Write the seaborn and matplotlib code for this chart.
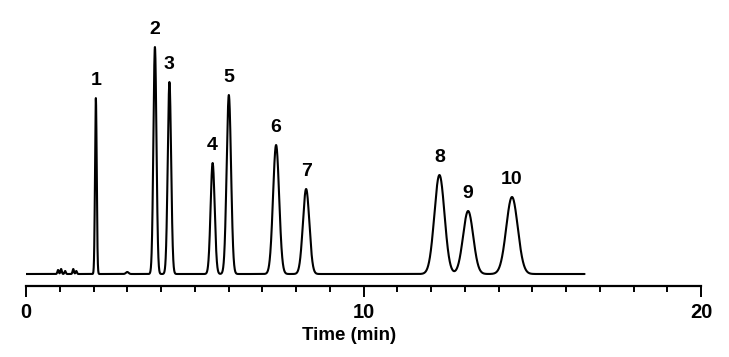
import numpy as np
import pandas as pd
import matplotlib
matplotlib.use("Agg")
import matplotlib.pyplot as plt
import seaborn as sns
from matplotlib.ticker import MultipleLocator

# Peak table
peak_labels = ["1", "2", "3", "4", "5", "6", "7", "8", "9", "10"]
peak_times = [2.07, 3.82, 4.25, 5.53, 6.01, 7.41, 8.30, 12.25, 13.10, 14.40]
peak_heights = [176, 227, 192, 111, 179, 129, 85, 99, 63, 77]
peak_sigmas = [0.025, 0.045, 0.05, 0.06, 0.065, 0.09, 0.095, 0.15, 0.15, 0.17]

# small unlabeled features near the start
minor_times = [0.95, 1.04, 1.16, 1.40, 1.49, 3.00]
minor_heights = [4, 5, 3, 5, 3, 2]
minor_sigmas = [0.02, 0.02, 0.02, 0.02, 0.02, 0.04]

run_end = 16.55
x_ticks_major = [0, 10, 20]

sns.set_theme(style="white")
plt.rcParams["font.family"] = ["Liberation Sans", "DejaVu Sans"]

t = np.linspace(0, run_end, 6000)
signal = np.zeros_like(t)
for tr, h, s in zip(peak_times + minor_times, peak_heights + minor_heights,
                    peak_sigmas + minor_sigmas):
    signal += h * np.exp(-0.5 * ((t - tr) / s) ** 2)
df = pd.DataFrame({"Time (min)": t, "Signal": signal})

fig = plt.figure(figsize=(7.29, 3.57), dpi=100)
ax = fig.add_axes([26 / 729, (357 - 286) / 357, (701 - 26) / 729, 286 / 357])
sns.lineplot(data=df, x="Time (min)", y="Signal", ax=ax, color="black",
             linewidth=1.5)

for lab, tr, h in zip(peak_labels, peak_times, peak_heights):
    ax.text(tr, h + 9, lab, ha="center", va="bottom", fontsize=14,
            fontweight="bold", color="black")

ax.set_xlim(0, 20)
ax.set_ylim(-12, 274)
for side in ["top", "left", "right"]:
    ax.spines[side].set_visible(False)
ax.spines["bottom"].set_linewidth(1.6)
ax.spines["bottom"].set_color("black")
ax.set_yticks([])
ax.set_ylabel("")
ax.set_xticks(x_ticks_major)
ax.xaxis.set_minor_locator(MultipleLocator(1))
ax.tick_params(axis="x", which="major", direction="out", length=8, width=1.4,
               color="black", bottom=True, pad=4, labelsize=14.5,
               labelcolor="black")
ax.tick_params(axis="x", which="minor", direction="out", length=4.5, width=1.4,
               color="black", bottom=True)
for lbl in ax.get_xticklabels():
    lbl.set_fontweight("bold")
ax.set_xlabel("Time (min)", fontsize=13.5, fontweight="bold", color="black")
ax.xaxis.set_label_coords(0.4785, -0.142)
ax.xaxis.label.set_va("top")
ax.patch.set_alpha(0)

fig.savefig("out.png", dpi=100, facecolor="white")
